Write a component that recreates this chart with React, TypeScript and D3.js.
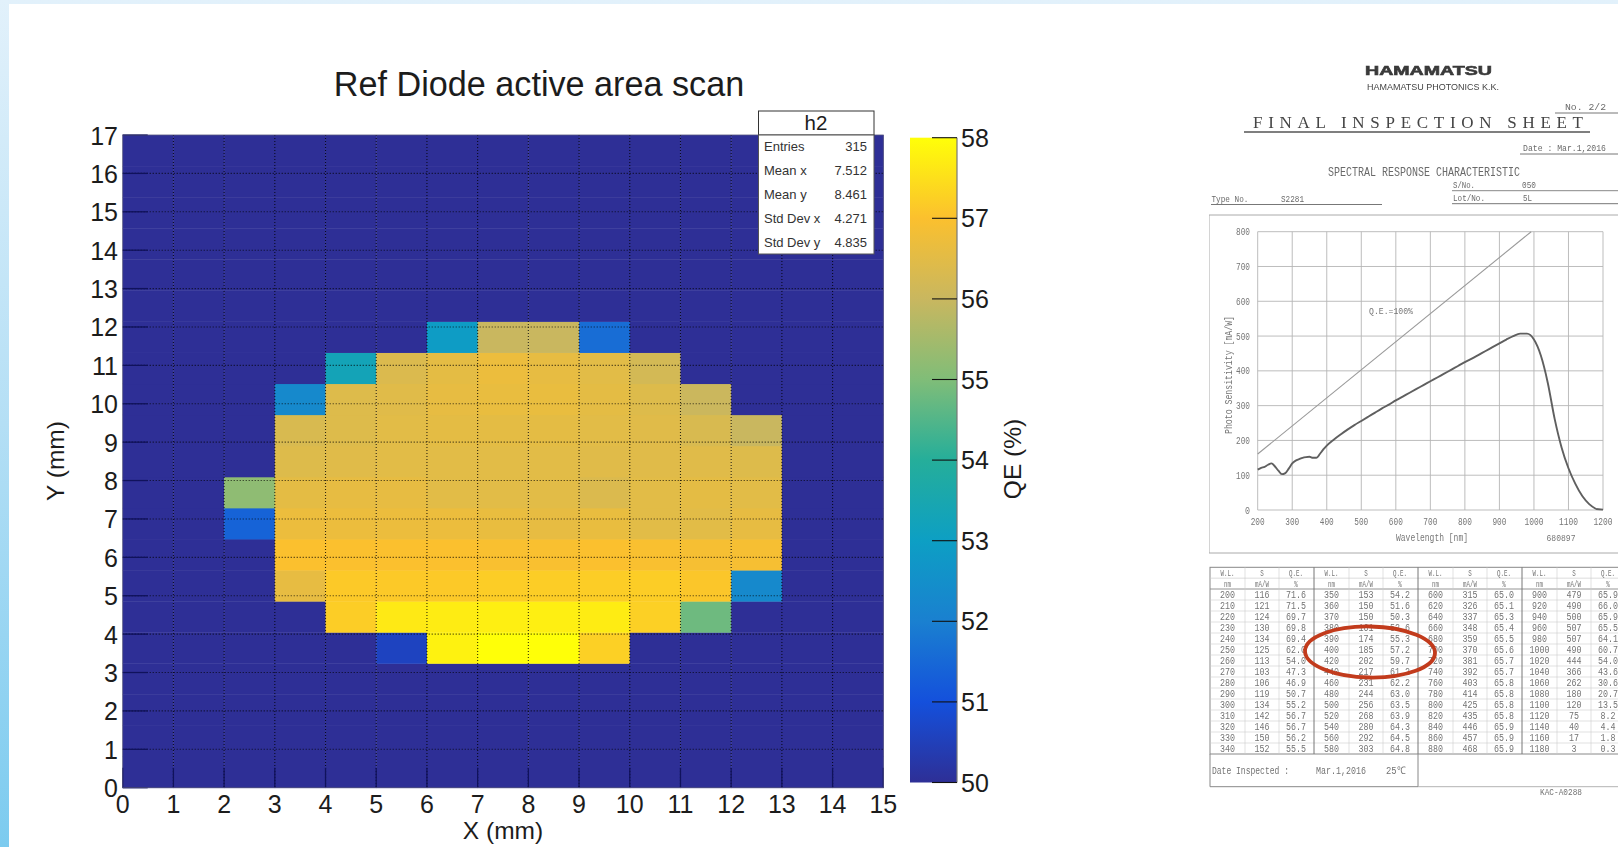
import * as d3 from "d3";

// QE (%) per bin, bottom row first. 15 x bins, 21 y bins over 0..17 mm. 0 = nothing measured
const qeRows: number[][] = [
  [0, 0, 0, 0, 0, 0, 0, 0, 0, 0, 0, 0, 0, 0, 0],
  [0, 0, 0, 0, 0, 0, 0, 0, 0, 0, 0, 0, 0, 0, 0],
  [0, 0, 0, 0, 0, 0, 0, 0, 0, 0, 0, 0, 0, 0, 0],
  [0, 0, 0, 0, 0, 0, 0, 0, 0, 0, 0, 0, 0, 0, 0],
  [0, 0, 0, 0, 0, 50.6, 57.8, 58, 58, 57.25, 0, 0, 0, 0, 0],
  [0, 0, 0, 0, 57.2, 57.65, 57.7, 57.75, 57.75, 57.7, 57.25, 54.8, 0, 0, 0],
  [0, 0, 0, 56.6, 57.15, 57.15, 57.15, 57.2, 57.2, 57.2, 57.2, 57.1, 52.3, 0, 0],
  [0, 0, 0, 57, 57, 57, 57, 56.95, 56.95, 57, 56.95, 56.9, 56.9, 0, 0],
  [0, 0, 51.4, 56.7, 56.7, 56.7, 56.7, 56.65, 56.6, 56.65, 56.5, 56.5, 56.6, 0, 0],
  [0, 0, 55.2, 56.55, 56.6, 56.6, 56.5, 56.5, 56.5, 56.35, 56.5, 56.55, 56.5, 0, 0],
  [0, 0, 0, 56.4, 56.45, 56.5, 56.5, 56.5, 56.5, 56.45, 56.45, 56.45, 56.4, 0, 0],
  [0, 0, 0, 56.3, 56.4, 56.5, 56.55, 56.55, 56.55, 56.5, 56.45, 56.3, 56, 0, 0],
  [0, 0, 0, 52.3, 56.4, 56.45, 56.6, 56.65, 56.65, 56.55, 56.4, 56.05, 0, 0, 0],
  [0, 0, 0, 0, 53.3, 56.35, 56.55, 56.7, 56.6, 56.5, 56.2, 0, 0, 0, 0],
  [0, 0, 0, 0, 0, 0, 52.9, 56, 56, 51.6, 0, 0, 0, 0, 0],
  [0, 0, 0, 0, 0, 0, 0, 0, 0, 0, 0, 0, 0, 0, 0],
  [0, 0, 0, 0, 0, 0, 0, 0, 0, 0, 0, 0, 0, 0, 0],
  [0, 0, 0, 0, 0, 0, 0, 0, 0, 0, 0, 0, 0, 0, 0],
  [0, 0, 0, 0, 0, 0, 0, 0, 0, 0, 0, 0, 0, 0, 0],
  [0, 0, 0, 0, 0, 0, 0, 0, 0, 0, 0, 0, 0, 0, 0],
  [0, 0, 0, 0, 0, 0, 0, 0, 0, 0, 0, 0, 0, 0, 0],
];

// palette
const paletteValues = [50, 51, 52, 53, 54, 55, 56, 57, 58];
const paletteColors = ["#2e2f96", "#1450dc", "#1a80d0", "#0d9fc4", "#25ae9a", "#80bd78", "#c9b75f", "#fbc02e", "#ffff08"];

const statLabels = ["Entries", "Mean x", "Mean y", "Std Dev x", "Std Dev y"];
const statValues = ["315", "7.512", "8.461", "4.271", "4.835"];

// inspection sheet table, one array per column, 4 blocks of 15 rows
const wavelengths = [
  200, 210, 220, 230, 240, 250, 260, 270, 280, 290, 300, 310, 320, 330, 340,
  350, 360, 370, 380, 390, 400, 420, 440, 460, 480, 500, 520, 540, 560, 580,
  600, 620, 640, 660, 680, 700, 720, 740, 760, 780, 800, 820, 840, 860, 880,
  900, 920, 940, 960, 980, 1000, 1020, 1040, 1060, 1080, 1100, 1120, 1140, 1160, 1180,
];
const sensitivity = [
  116, 121, 124, 130, 134, 125, 113, 103, 106, 119, 134, 142, 146, 150, 152,
  153, 150, 150, 161, 174, 185, 202, 217, 231, 244, 256, 268, 280, 292, 303,
  315, 326, 337, 348, 359, 370, 381, 392, 403, 414, 425, 435, 446, 457, 468,
  479, 490, 500, 507, 507, 490, 444, 366, 262, 180, 120, 75, 40, 17, 3,
];
const quantumEff = [
  "71.6", "71.5", "69.7", "69.8", "69.4", "62.0", "54.0", "47.3", "46.9", "50.7", "55.2", "56.7", "56.7", "56.2", "55.5",
  "54.2", "51.6", "50.3", "52.6", "55.3", "57.2", "59.7", "61.2", "62.2", "63.0", "63.5", "63.9", "64.3", "64.5", "64.8",
  "65.0", "65.1", "65.3", "65.4", "65.5", "65.6", "65.7", "65.7", "65.8", "65.8", "65.8", "65.8", "65.9", "65.9", "65.9",
  "65.9", "66.0", "65.9", "65.5", "64.1", "60.7", "54.0", "43.6", "30.6", "20.7", "13.5", "8.2", "4.4", "1.8", "0.3",
];
const qeLineWl = [200, 992];
const qeLineS = [161, 800];

const sans = "'Liberation Sans', Arial, sans-serif";
const mono = "'Liberation Mono', 'DejaVu Sans Mono', monospace";
const serif = "'Liberation Serif', serif";

// typewriter text on the scan is tall and narrow, so squeeze it to a given width
const Narrow = ({ x, y, w, size, anchor, children }: { x: number, y: number, w: number, size: number, anchor?: string, children: any }) => (
  <text x={x} y={y} fontSize={size} textAnchor={anchor} textLength={w} lengthAdjust="spacingAndGlyphs">{children}</text>
);

function Heatmap() {
  const x = d3.scaleLinear([0, 15], [122.7, 883.3]);
  const y = d3.scaleLinear([0, 17], [787.7, 135]);
  const binY = (17 / 21);
  const color = d3.scaleLinear<string>(paletteValues, paletteColors).clamp(true);
  const cbY = d3.scaleLinear([50, 58], [782.5, 137.7]);
  const xTicks = d3.range(0, 16);
  const yTicks = d3.range(0, 18);

  return (
    <g fontFamily={sans} fill="#1c1c1c">
      <text x={539} y={96} fontSize={34.2} textAnchor="middle">Ref Diode active area scan</text>

      {qeRows.map((row, j) =>
        row.map((v, i) => (
          <rect
            key={`${i}-${j}`}
            x={x(i)}
            y={y((j + 1) * binY)}
            width={x(i + 1) - x(i) + 0.4}
            height={y(j * binY) - y((j + 1) * binY) + 0.4}
            fill={color(v)}
          />
        ))
      )}

      {xTicks.slice(1, -1).map(t => (
        <line key={t} x1={x(t)} x2={x(t)} y1={y(17)} y2={y(0)} stroke="#000" strokeOpacity={0.8} strokeWidth={1.1} strokeDasharray="1 2" />
      ))}
      {yTicks.slice(1, -1).map(t => (
        <line key={t} x1={x(0)} x2={x(15)} y1={y(t)} y2={y(t)} stroke="#000" strokeOpacity={0.8} strokeWidth={1.1} strokeDasharray="1 2" />
      ))}
      {xTicks.map(t => (
        <g key={t}>
          <line x1={x(t)} x2={x(t)} y1={y(0)} y2={y(0) - 20} stroke="#10125c" strokeWidth={1.3} />
          <text x={x(t)} y={813} fontSize={25} textAnchor="middle">{t}</text>
        </g>
      ))}
      {yTicks.map(t => (
        <g key={t}>
          <line x1={x(0)} x2={x(0) + 25} y1={y(t)} y2={y(t)} stroke="#10125c" strokeWidth={1.3} />
          <text x={118} y={y(t) + 9.5} fontSize={25} textAnchor="end">{t}</text>
        </g>
      ))}
      <rect x={x(0)} y={y(17)} width={x(15) - x(0)} height={y(0) - y(17)} fill="none" stroke="#55557f" strokeWidth={0.8} />

      <text x={503} y={839} fontSize={24.5} textAnchor="middle">X (mm)</text>
      <text transform="translate(64,461) rotate(-90)" fontSize={24.5} textAnchor="middle">Y (mm)</text>
      <text transform="translate(1021,459) rotate(-90)" fontSize={24.5} textAnchor="middle">QE (%)</text>

      <rect x={910} y={cbY(58)} width={47} height={cbY(50) - cbY(58)} fill="url(#qeBar)" />
      <line x1={957} x2={957} y1={cbY(58)} y2={cbY(50)} stroke="#777" strokeWidth={1.2} />
      {paletteValues.map(t => (
        <g key={t}>
          <line x1={932} x2={957} y1={cbY(t)} y2={cbY(t)} stroke="#111" strokeWidth={1.1} />
          <text x={961} y={cbY(t) + 9} fontSize={25}>{t}</text>
        </g>
      ))}

      <rect x={758.5} y={111} width={115.5} height={24} fill="#fff" stroke="#333" strokeWidth={1} />
      <text x={816} y={130} fontSize={20.5} textAnchor="middle">h2</text>
      <rect x={758.5} y={135} width={115.5} height={119} fill="#fff" stroke="#555" strokeWidth={1} />
      {statLabels.map((l, i) => (
        <g key={l} fontSize={13} fill="#333">
          <text x={764} y={151 + i * 23.9}>{l}</text>
          <text x={867} y={151 + i * 23.9} textAnchor="end">{statValues[i]}</text>
        </g>
      ))}
    </g>
  );
}

function SheetPlot() {
  const x = d3.scaleLinear([200, 1200], [1257.7, 1603]);
  const y = d3.scaleLinear([0, 800], [510, 231.7]);
  const line = d3.line<number>().x(i => x(wavelengths[i])).y(i => y(sensitivity[i])).curve(d3.curveMonotoneX);
  const idx = wavelengths.map((_, i) => i);
  const xTicks = d3.range(200, 1201, 100);
  const yTicks = d3.range(0, 801, 100);

  return (
    <g fontFamily={mono} fill="#777">
      <path d="M1209 215V553H1618M1209 215H1618" fill="none" stroke="#aaa" strokeWidth={1} />
      {xTicks.map(t => (
        <g key={t}>
          <line x1={x(t)} x2={x(t)} y1={y(800)} y2={y(0)} stroke="#b5b5b5" strokeWidth={0.9} />
          <Narrow x={x(t)} y={525} w={t >= 1000 ? 19 : 14} size={10} anchor="middle">{t}</Narrow>
        </g>
      ))}
      {yTicks.map(t => (
        <g key={t}>
          <line x1={x(200)} x2={x(1200)} y1={y(t)} y2={y(t)} stroke="#b5b5b5" strokeWidth={0.9} />
          <Narrow x={1250} y={y(t) + 3.5} w={t === 0 ? 5 : 14} size={10} anchor="end">{t}</Narrow>
        </g>
      ))}
      <line x1={x(qeLineWl[0])} x2={x(qeLineWl[1])} y1={y(qeLineS[0])} y2={y(qeLineS[1])} stroke="#999" strokeWidth={1.1} />
      <path d={line(idx) ?? ""} fill="none" stroke="#5f5f5f" strokeWidth={1.9} />
      <path d={`M${x(1180)} ${y(3)}L${x(1200)} ${y(1)}`} fill="none" stroke="#5f5f5f" strokeWidth={1.9} />
      <Narrow x={1369} y={314} w={44} size={9.5}>Q.E.=100%</Narrow>
      <g transform="translate(1232,375) rotate(-90)">
        <Narrow x={0} y={0} w={118} size={10} anchor="middle">Photo Sensitivity [mA/W]</Narrow>
      </g>
      <Narrow x={1432} y={541} w={72} size={10} anchor="middle">Wavelength [nm]</Narrow>
      <Narrow x={1561} y={541} w={29} size={9.5} anchor="middle">680897</Narrow>
    </g>
  );
}

function SheetTable() {
  const left = 1210;
  const blockW = 104;
  const headTop = 567.3;
  const headBottom = 589;
  const rowH = 11;
  const blocks = d3.range(0, 4);
  const rows = d3.range(0, 15);
  const rowY = d3.scaleLinear([0, 15], [headBottom, headBottom + 15 * rowH]);
  const colX = [17.5, 52, 86];
  const head1 = ["W.L.", "S", "Q.E."];
  const head2 = ["nm", "mA/W", "%"];
  const tableBottom = rowY(15);
  const cell = (s: string | number) => String(s).length * 5;

  return (
    <g fontFamily={mono} fill="#737373">
      <rect x={left} y={headTop} width={440} height={tableBottom - headTop} fill="none" stroke="#888" strokeWidth={1} />
      <line x1={left} x2={1618} y1={(headTop + headBottom) / 2} y2={(headTop + headBottom) / 2} stroke="#ccc" strokeWidth={0.7} />
      <line x1={left} x2={1618} y1={headBottom} y2={headBottom} stroke="#888" strokeWidth={0.9} />
      {rows.slice(1).map(r => (
        <line key={r} x1={left} x2={1618} y1={rowY(r)} y2={rowY(r)} stroke="#cfcfcf" strokeWidth={0.6} />
      ))}
      {blocks.map(b => {
        const bx = left + b * blockW;
        return (
          <g key={b}>
            {b > 0 && <line x1={bx} x2={bx} y1={headTop} y2={tableBottom} stroke="#777" strokeWidth={1} />}
            <line x1={bx + 35} x2={bx + 35} y1={headTop} y2={tableBottom} stroke="#ccc" strokeWidth={0.6} />
            <line x1={bx + 69} x2={bx + 69} y1={headTop} y2={tableBottom} stroke="#ccc" strokeWidth={0.6} />
            {colX.map((cx, c) => (
              <g key={c}>
                <Narrow x={bx + cx} y={576} w={head1[c].length * 3.5} size={8.5} anchor="middle">{head1[c]}</Narrow>
                <Narrow x={bx + cx} y={586.5} w={head2[c].length * 3.5} size={8.5} anchor="middle">{head2[c]}</Narrow>
              </g>
            ))}
            {rows.map(r => {
              const i = b * 15 + r;
              const ty = rowY(r) + 9;
              return (
                <g key={r}>
                  <Narrow x={bx + colX[0]} y={ty} w={cell(wavelengths[i])} size={10.5} anchor="middle">{wavelengths[i]}</Narrow>
                  <Narrow x={bx + colX[1]} y={ty} w={cell(sensitivity[i])} size={10.5} anchor="middle">{sensitivity[i]}</Narrow>
                  <Narrow x={bx + colX[2]} y={ty} w={cell(quantumEff[i])} size={10.5} anchor="middle">{quantumEff[i]}</Narrow>
                </g>
              );
            })}
          </g>
        );
      })}
      <path d={`M${left} ${tableBottom}V786.7H1418V${tableBottom}`} fill="none" stroke="#888" strokeWidth={1} />
      <line x1={1418} x2={1618} y1={786.7} y2={786.7} stroke="#aaa" strokeWidth={0.9} />
      <Narrow x={1212} y={774} w={77} size={10.5}>Date Inspected :</Narrow>
      <Narrow x={1316} y={774} w={50} size={10.5}>Mar.1,2016</Narrow>
      <Narrow x={1386} y={774} w={19} size={10.5}>25℃</Narrow>
      <Narrow x={1561} y={795} w={42} size={9} anchor="middle">KAC-A0288</Narrow>
    </g>
  );
}

function Sheet() {
  return (
    <g filter="url(#scan)">
      <text x={1365} y={75} fontFamily={sans} fontWeight={700} fontSize={12.5} fill="#3a3a3a" stroke="#3a3a3a" strokeWidth={0.6} textLength={127} lengthAdjust="spacingAndGlyphs">HAMAMATSU</text>
      <text x={1367} y={89.5} fontFamily={sans} fontSize={9.6} fill="#444" textLength={132} lengthAdjust="spacingAndGlyphs">HAMAMATSU PHOTONICS K.K.</text>
      <g fontFamily={mono} fill="#6a6a6a">
        <Narrow x={1565} y={110} w={41} size={9.5}>No.  2/2</Narrow>
        <line x1={1555} x2={1618} y1={113} y2={113} stroke="#777" />
        <Narrow x={1523} y={151} w={83} size={9.5}>Date : Mar.1,2016</Narrow>
        <line x1={1520} x2={1618} y1={154} y2={154} stroke="#777" />
        <Narrow x={1328} y={176} w={192} size={12}>SPECTRAL RESPONSE CHARACTERISTIC</Narrow>
        <Narrow x={1453} y={188} w={22} size={9.5}>S/No.</Narrow>
        <Narrow x={1522} y={188} w={14} size={9.5}>050</Narrow>
        <line x1={1452} x2={1618} y1={190.7} y2={190.7} stroke="#888" />
        <Narrow x={1453} y={201} w={32} size={9.5}>Lot/No.</Narrow>
        <Narrow x={1523} y={201} w={9} size={9.5}>5L</Narrow>
        <line x1={1452} x2={1618} y1={203.7} y2={203.7} stroke="#777" />
        <Narrow x={1211.5} y={202} w={37} size={9.5}>Type No.</Narrow>
        <Narrow x={1281} y={202} w={23} size={9.5}>S2281</Narrow>
        <line x1={1211} x2={1382} y1={204.5} y2={204.5} stroke="#777" />
      </g>
      <text x={1253} y={128} fontFamily={serif} fontSize={17} fill="#444" textLength={330}>FINAL INSPECTION SHEET</text>
      <line x1={1244} x2={1590} y1={132} y2={132} stroke="#555" strokeWidth={1.4} />
      <SheetPlot />
      <SheetTable />
      <ellipse cx={1370} cy={652} rx={65} ry={25.5} transform="rotate(1 1370 652)" fill="none" stroke="#c23a1c" strokeWidth={3.8} />
    </g>
  );
}

export default function App() {
  const barStops = paletteValues.map((v, i) => ({ offset: (v - 50) / 8, color: paletteColors[i] }));
  return (
    <svg width={1618} height={847} style={{ position: "absolute", left: 0, top: 0 }}>
      <defs>
        <linearGradient id="edge" x1="0" y1="0" x2="0" y2="1">
          <stop offset="0" stopColor="#e2f1fb" />
          <stop offset="0.5" stopColor="#b4dff5" />
          <stop offset="1" stopColor="#7ccbef" />
        </linearGradient>
        <linearGradient id="qeBar" x1="0" y1="1" x2="0" y2="0">
          {barStops.map(s => <stop key={s.offset} offset={s.offset} stopColor={s.color} />)}
        </linearGradient>
        <filter id="scan" x="0" y="0" width="100%" height="100%">
          <feGaussianBlur stdDeviation="0.6" />
        </filter>
      </defs>
      <rect width={1618} height={847} fill="url(#edge)" />
      <rect x={9} y={4} width={1609} height={843} fill="#fff" />
      <Heatmap />
      <Sheet />
    </svg>
  );
}
